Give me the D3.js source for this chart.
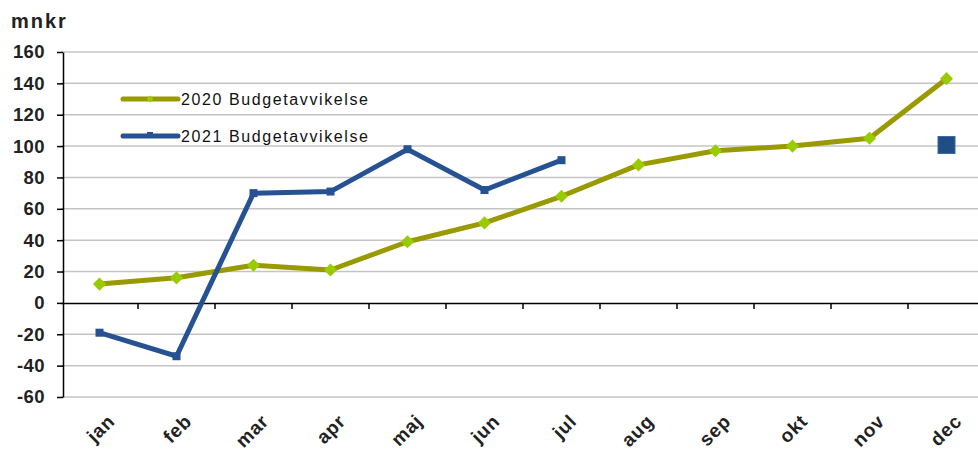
<!DOCTYPE html>
<html>
<head>
<meta charset="utf-8">
<script src="https://cdnjs.cloudflare.com/ajax/libs/d3/7.8.5/d3.min.js"></script>
<style>
  body { margin: 0; background: #fff; }
  svg { font-family: "Liberation Sans", Arial, sans-serif; }
</style>
</head>
<body>
<div id="chart"></div>
<script>
const months = ["jan","feb","mar","apr","maj","jun","jul","aug","sep","okt","nov","dec"];
const values2020 = [12, 16, 24, 21, 39, 51, 68, 88, 97, 100, 105, 143];
const values2021 = [-19, -34, 70, 71, 98, 72, 91];
const budget2021 = [{month: "dec", value: 101}];
const yTicks = [-60, -40, -20, 0, 20, 40, 60, 80, 100, 120, 140, 160];
const seriesNames = ["2020 Budgetavvikelse", "2021 Budgetavvikelse"];

const width = 978, height = 454;
const margin = {top: 52, right: -7, bottom: 57, left: 61};

const svg = d3.select("#chart").append("svg")
    .attr("width", width)
    .attr("height", height);

const x = d3.scaleBand()
    .domain(months)
    .range([margin.left, width - margin.right]);

const y = d3.scaleLinear()
    .domain([-60, 160])
    .range([height - margin.bottom, margin.top]);

// gridlines
svg.append("g")
    .selectAll("line")
    .data(yTicks.filter(d => d !== 0))
    .enter().append("line")
    .attr("x1", margin.left)
    .attr("x2", width - margin.right)
    .attr("y1", d => y(d))
    .attr("y2", d => y(d))
    .attr("stroke", "#c4c4c4")
    .attr("stroke-width", 1.5);

// y axis
const yAxis = svg.append("g")
    .attr("transform", "translate(" + (margin.left + 2) + ",0)")
    .call(d3.axisLeft(y).tickValues(yTicks).tickSize(6).tickSizeOuter(0)
        .tickFormat(d => String(d)));
yAxis.select(".domain").attr("stroke", "#000").attr("stroke-width", 1.5);
yAxis.selectAll(".tick line").attr("stroke", "#000").attr("stroke-width", 1.5);
yAxis.selectAll("text")
    .attr("font-size", 18.5)
    .attr("font-weight", "bold")
    .attr("letter-spacing", 0.4)
    .attr("fill", "#222")
    .attr("x", -18);

// zero line / x axis
const xAxis = svg.append("g")
    .attr("transform", "translate(0," + y(0) + ")")
    .call(d3.axisBottom(x).tickSize(0).tickSizeOuter(0));
xAxis.select(".domain").attr("stroke", "#000").attr("stroke-width", 1.5);
xAxis.selectAll("text").remove();

// category tick marks between bands
svg.append("g")
    .selectAll("line")
    .data(months.slice(1))
    .enter().append("line")
    .attr("x1", d => x(d))
    .attr("x2", d => x(d))
    .attr("y1", y(0))
    .attr("y2", y(0) + 6)
    .attr("stroke", "#000")
    .attr("stroke-width", 1.5);

// month labels
svg.append("g")
    .selectAll("text")
    .data(months)
    .enter().append("text")
    .attr("transform", d => "translate(" + (x(d) + x.bandwidth() / 2 + 7) + "," + (y(-60) + 16) + ") rotate(-45)")
    .attr("text-anchor", "end")
    .attr("dy", "0.7em")
    .attr("font-size", 19)
    .attr("font-weight", "bold")
    .attr("letter-spacing", 0.8)
    .attr("fill", "#222")
    .text(d => d);

// unit title
svg.append("text")
    .attr("x", 11)
    .attr("y", 28)
    .attr("font-size", 20)
    .attr("font-weight", "bold")
    .attr("letter-spacing", 2)
    .attr("fill", "#222")
    .text("mnkr");

const cx = (d, i) => x(months[i]) + x.bandwidth() / 2;
const line = d3.line().x(cx).y(d => y(d));

const olive = "#999900";
const blue = "#265192";

svg.append("path")
    .datum(values2020)
    .attr("fill", "none")
    .attr("stroke", olive)
    .attr("stroke-width", 5)
    .attr("stroke-linejoin", "round")
    .attr("d", line);

svg.append("g")
    .selectAll("path")
    .data(values2020)
    .enter().append("path")
    .attr("transform", (d, i) => "translate(" + cx(d, i) + "," + y(d) + ")")
    .attr("d", d3.symbol(d3.symbolDiamond2, 110))
    .attr("fill", "#99cc00");

svg.append("path")
    .datum(values2021)
    .attr("fill", "none")
    .attr("stroke", blue)
    .attr("stroke-width", 5)
    .attr("stroke-linejoin", "miter")
    .attr("d", line);

svg.append("g")
    .selectAll("rect")
    .data(values2021)
    .enter().append("rect")
    .attr("x", (d, i) => cx(d, i) - 4)
    .attr("y", d => y(d) - 4)
    .attr("width", 8)
    .attr("height", 8)
    .attr("fill", blue);

svg.append("g")
    .selectAll("rect")
    .data(budget2021)
    .enter().append("rect")
    .attr("x", d => x(d.month) + x.bandwidth() / 2 - 8.5)
    .attr("y", d => y(d.value) - 8)
    .attr("width", 17)
    .attr("height", 17)
    .attr("fill", "#1f4e85")
    .attr("stroke", "#3a6aa5")
    .attr("stroke-width", 1);

// legend
const legend = svg.append("g");
const legendColors = [olive, blue];
seriesNames.forEach((name, i) => {
    const ly = 99 + i * 37;
    legend.append("line")
        .attr("x1", 123).attr("x2", 178)
        .attr("y1", ly).attr("y2", ly)
        .attr("stroke", legendColors[i])
        .attr("stroke-width", 5)
        .attr("stroke-linecap", "round");
    if (i === 0) {
        legend.append("path")
            .attr("transform", "translate(150," + ly + ")")
            .attr("d", d3.symbol(d3.symbolDiamond2, 30))
            .attr("fill", "#99cc00");
    } else {
        legend.append("rect")
            .attr("x", 147).attr("y", ly - 4)
            .attr("width", 6).attr("height", 6)
            .attr("fill", blue);
    }
    legend.append("text")
        .attr("x", 181)
        .attr("y", ly)
        .attr("dy", "0.36em")
        .attr("font-size", 16)
        .attr("letter-spacing", 1.6)
        .attr("fill", "#111")
        .text(name);
});
</script>
</body>
</html>
